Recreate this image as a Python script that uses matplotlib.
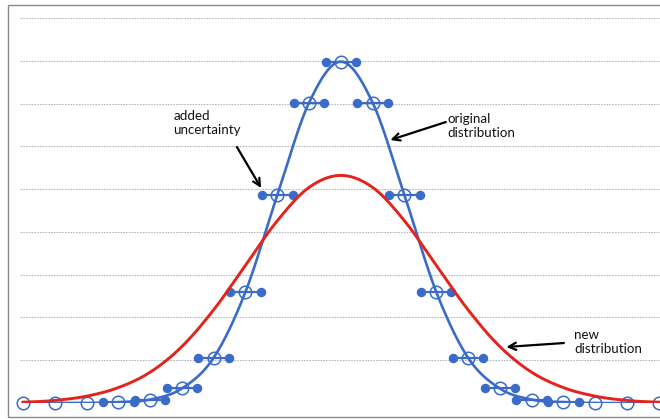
import matplotlib
matplotlib.use("Agg")
import matplotlib.pyplot as plt
import numpy as np
from matplotlib.patches import Rectangle

# values (x step 0.5)
x_vals = [-5.0, -4.5, -4.0, -3.5, -3.0, -2.5, -2.0, -1.5, -1.0, -0.5, 0.0,
          0.5, 1.0, 1.5, 2.0, 2.5, 3.0, 3.5, 4.0, 4.5, 5.0]
orig = [0.000, 0.000, 0.000, 0.001, 0.004, 0.017, 0.053, 0.130, 0.243, 0.351, 0.399,
        0.351, 0.243, 0.130, 0.053, 0.017, 0.004, 0.001, 0.000, 0.000, 0.000]
new = [0.001, 0.003, 0.008, 0.018, 0.036, 0.066, 0.109, 0.161, 0.213, 0.252, 0.266,
       0.252, 0.213, 0.161, 0.109, 0.066, 0.036, 0.018, 0.008, 0.003, 0.001]
# horizontal uncertainty bars (none on the far tails)
x_err = [0, 0, 0, 0.24, 0.24, 0.24, 0.24, 0.24, 0.24, 0.24, 0.24,
         0.24, 0.24, 0.24, 0.24, 0.24, 0.24, 0.24, 0, 0, 0]

blue = "#3a6bc8"
red = "#e3231c"


def smooth(xs, ys, n=24):
    # catmull-rom through the points, like a "smoothed line" chart
    xs = np.asarray(xs, float)
    ys = np.asarray(ys, float)
    px = np.concatenate([[2*xs[0]-xs[1]], xs, [2*xs[-1]-xs[-2]]])
    py = np.concatenate([[ys[0]], ys, [ys[-1]]])
    outx, outy = [], []
    t = np.linspace(0, 1, n, endpoint=False)
    for i in range(1, len(px)-2):
        for P, out in ((px, outx), (py, outy)):
            p0, p1, p2, p3 = P[i-1], P[i], P[i+1], P[i+2]
            out.extend(0.5*((2*p1) + (-p0+p2)*t + (2*p0-5*p1+4*p2-p3)*t**2
                            + (-p0+3*p1-3*p2+p3)*t**3))
    outx.append(xs[-1])
    outy.append(ys[-1])
    return np.array(outx), np.array(outy)


fig = plt.figure(figsize=(6.6, 4.19), dpi=100)
ax = fig.add_axes([20/660, 16/419, 640/660, 385/419])

x = np.array(x_vals)
y = np.array(orig)
e = np.array(x_err)

sx, sy = smooth(x, y)
ax.plot(sx, sy, color=blue, lw=1.9, zorder=3)

has = e > 0
ax.errorbar(x[has], y[has], xerr=e[has], fmt="none", ecolor=blue, elinewidth=1.6,
            capsize=0, zorder=3)
ax.plot(np.concatenate([x[has]-e[has], x[has]+e[has]]),
        np.concatenate([y[has], y[has]]), "o", color=blue, ms=5.8, mec=blue,
        zorder=4, clip_on=False)
ax.plot(x, y, "o", mfc="none", mec=blue, mew=1.1, ms=9, zorder=5, clip_on=False)

rx, ry = smooth(x, new)
ax.plot(rx, ry, color=red, lw=2.1, zorder=6)

ax.set_xlim(-5.047, 5.02)
ax.set_ylim(0, 0.45)
ax.set_yticks(np.arange(0, 0.451, 0.05))
ax.yaxis.grid(True, color="#b4b8c6", lw=0.8, ls=(0, (1.5, 1)))
ax.set_axisbelow(True)
ax.tick_params(left=False, bottom=False, labelleft=False, labelbottom=False)
for s in ax.spines.values():
    s.set_visible(False)

font = dict(family=["Lato", "DejaVu Sans"], fontsize=9.6, color="#111111",
            ha="left", va="center", linespacing=1.2)
ax.text(-2.635, 0.3267, "added\nuncertainty", **font)
ax.text(1.683, 0.3243, "original\ndistribution", **font)
ax.text(3.667, 0.0713, "new\ndistribution", **font)

arw = dict(arrowstyle="->", color="black", lw=1.6, mutation_scale=13,
           shrinkA=0, shrinkB=0)
ax.annotate("", xy=(-1.254, 0.2513), xytext=(-1.635, 0.2992), arrowprops=arw, zorder=7)
ax.annotate("", xy=(0.778, 0.3074), xytext=(1.651, 0.3284), arrowprops=arw, zorder=7)
ax.annotate("", xy=(2.603, 0.0655), xytext=(3.508, 0.0701), arrowprops=arw, zorder=7)

# chart area border
fig.patches.append(Rectangle((8/660, 2/419), 1.0, 412/419, transform=fig.transFigure,
                             fill=False, ec="#8a8a8a", lw=1.0))

fig.savefig("out.png", dpi=100)
